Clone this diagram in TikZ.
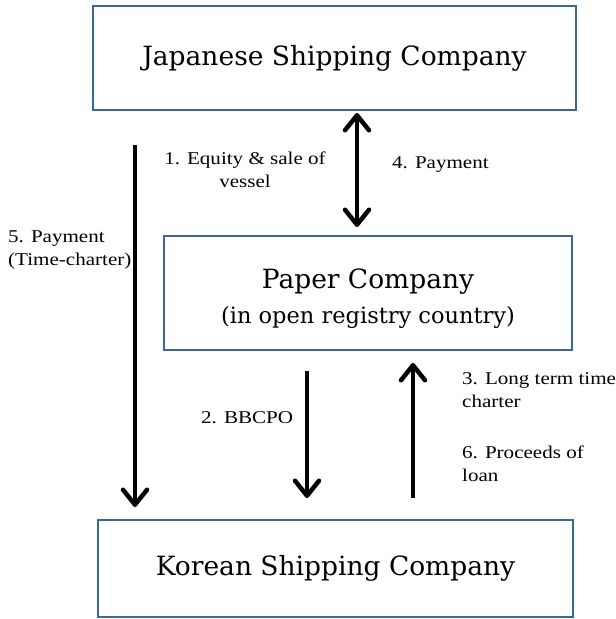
\documentclass[tikz,border=0pt]{standalone}
\usepackage{fontspec}
\setmainfont{Liberation Serif}
\newfontfamily\lblfont[FakeStretch=1.17]{Liberation Serif}
\newfontfamily\boxfont{DejaVu Serif}
\usetikzlibrary{arrows.meta}
\definecolor{boxblue}{HTML}{3A6699}
\tikzset{
  mytip/.tip={Straight Barb[length=15pt,width=24pt,line width=4.5pt,round]},
  company/.style={draw=boxblue, line width=2pt, inner sep=0pt},
  ctext/.style={font=\boxfont\fontsize{26.5}{35}\selectfont, align=center, inner sep=0pt},
  flow/.style={line width=4.5pt, -{mytip}},
  dflow/.style={line width=4.5pt, {mytip}-{mytip}},
  lbl/.style={font=\lblfont\fontsize{18}{22.5}\selectfont, inner sep=0pt}
}
\begin{document}
\begin{tikzpicture}[x=1pt,y=-1pt]
\useasboundingbox (0,0) rectangle (616,619);
\node[company, minimum width=483pt, minimum height=104pt] (jsc) at (334.5,58) {};
\node[ctext] (jsct) at (jsc.center) {Japanese Shipping Company};
\node[company, minimum width=408pt, minimum height=114pt] (pc) at (368,293) {};
\node[ctext] (pct) at (368,299) {Paper Company\\{\fontsize{22.5}{30}\selectfont (in open registry country)}};
\node[company, minimum width=475pt, minimum height=97pt] (ksc) at (335.5,568.5) {};
\node[ctext] (ksct) at (ksc.center) {Korean Shipping Company};
\coordinate (a5s) at (135,145);
\coordinate (a5e) at (135,507);
\draw[flow] (a5s) -- (a5e);
\coordinate (d1) at (357,113);
\coordinate (d2) at (357,227);
\draw[dflow] (d1) -- (d2);
\coordinate (b1) at (307,371);
\coordinate (b2) at (307,498);
\draw[flow] (b1) -- (b2);
\coordinate (u1) at (413,498);
\coordinate (u2) at (413,363);
\draw[flow] (u1) -- (u2);
\node[lbl, align=center, anchor=base] (l1) at (245,187) {1. Equity \& sale of\\vessel};
\node[lbl, anchor=base west] (l4) at (392,168) {4. Payment};
\node[lbl, align=left, anchor=base west] (l5) at (8,265) {5. Payment\\(Time-charter)};
\node[lbl, anchor=base west] (l2) at (201,423) {2. BBCPO};
\node[lbl, align=left, anchor=base west] (l3) at (462,407) {3. Long term time\\charter};
\node[lbl, align=left, anchor=base west] (l6) at (462,481) {6. Proceeds of\\loan};
\end{tikzpicture}
\end{document}
